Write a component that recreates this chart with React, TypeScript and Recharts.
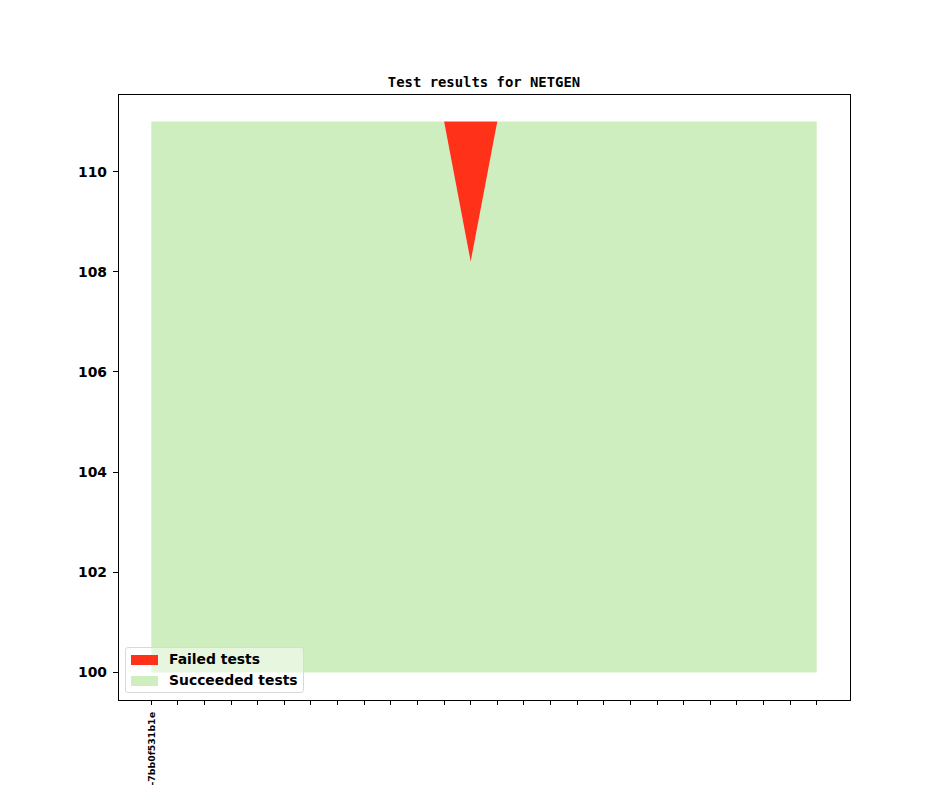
import React from "react";
import {
  ComposedChart,
  Area,
  XAxis,
  YAxis,
  Legend,
  ReferenceArea,
} from "recharts";

const commitLabels = [
  "-7bb0f531b1e", "", "", "", "", "", "", "", "", "", "", "", "",
  "", "", "", "", "", "", "", "", "", "", "", "", "",
];
const succeededTests = [
  111, 111, 111, 111, 111, 111, 111, 111, 111, 111, 111, 111, 108.2,
  111, 111, 111, 111, 111, 111, 111, 111, 111, 111, 111, 111, 111,
];
const failedTests = [
  0, 0, 0, 0, 0, 0, 0, 0, 0, 0, 0, 0, 2.8,
  0, 0, 0, 0, 0, 0, 0, 0, 0, 0, 0, 0, 0,
];
const yTicks = [100, 102, 104, 106, 108, 110];

const RED = "#ff3219";
const GREEN = "#cfeebf";

const data = commitLabels.map((label, i) => ({
  x: i,
  label,
  succ: succeededTests[i],
  failRange: [succeededTests[i], succeededTests[i] + failedTests[i]],
}));
const xTicks = data.map((d) => d.x);

const XTick = (props: any) => {
  const { x, y, payload } = props;
  const label = commitLabels[payload.value] || "";
  if (!label) return null;
  return (
    <text
      transform={`translate(${x},${y}) rotate(-90)`}
      textAnchor="end"
      dominantBaseline="central"
      fontFamily="DejaVu Sans"
      fontWeight="bold"
      fontSize={9.4}
      fill="#000"
    >
      {label}
    </text>
  );
};

const LegendBox = () => (
  <div
    style={{
      boxSizing: "border-box",
      border: "1px solid #d9d9d9",
      borderRadius: 3,
      background: "rgba(255,255,255,0.5)",
      padding: "1px 0 2px 5px",
      fontFamily: "DejaVu Sans",
      fontWeight: "bold",
      fontSize: 13.9,
      color: "#000",
      lineHeight: "21px",
      width: 179,
      height: 46,
      whiteSpace: "nowrap",
    }}
  >
    {[
      { name: "Failed tests", color: RED },
      { name: "Succeeded tests", color: GREEN },
    ].map((e) => (
      <div key={e.name} style={{ display: "flex", alignItems: "center", height: 21 }}>
        <span
          style={{
            display: "inline-block",
            width: 27,
            height: 10,
            background: e.color,
            marginRight: 11,
            flexShrink: 0,
          }}
        />
        <span>{e.name}</span>
      </div>
    ))}
  </div>
);

export default function App() {
  return (
    <div style={{ position: "absolute", left: 0, top: 0, width: 944, height: 787, background: "#fff", overflow: "hidden" }}>
      <div
        style={{
          position: "absolute",
          left: 118,
          width: 732,
          top: 74,
          textAlign: "center",
          fontFamily: "DejaVu Sans Mono",
          fontWeight: "bold",
          fontSize: 13.9,
          color: "#000",
        }}
      >
        Test results for NETGEN
      </div>
      <ComposedChart
        width={944}
        height={787}
        data={data}
        margin={{ top: 94, right: 94, left: 58, bottom: 47 }}
      >
        <XAxis
          dataKey="x"
          type="number"
          domain={[-1.25, 26.25]}
          ticks={xTicks}
          allowDataOverflow
          interval={0}
          height={40}
          tickSize={5}
          tickMargin={7}
          axisLine={{ stroke: "#000", shapeRendering: "crispEdges" }}
          tickLine={{ stroke: "#000", shapeRendering: "crispEdges" }}
          tick={<XTick />}
        />
        <YAxis
          type="number"
          domain={[99.45, 111.55]}
          ticks={yTicks}
          allowDataOverflow
          width={60}
          tickSize={5}
          tickMargin={6}
          axisLine={{ stroke: "#000", shapeRendering: "crispEdges" }}
          tickLine={{ stroke: "#000", shapeRendering: "crispEdges" }}
          tick={{ fill: "#000", fontFamily: "DejaVu Sans", fontWeight: "bold", fontSize: 13.9 }}
        />
        <Area
          dataKey="succ"
          baseValue={100}
          type="linear"
          fill={GREEN}
          fillOpacity={1}
          stroke="none"
          isAnimationActive={false}
          name="Succeeded tests"
        />
        <Area
          dataKey="failRange"
          type="linear"
          fill={RED}
          fillOpacity={1}
          stroke="none"
          isAnimationActive={false}
          name="Failed tests"
        />
        <ReferenceArea
          x1={-1.25}
          x2={26.25}
          y1={99.45}
          y2={111.55}
          fill="none"
          stroke="#000"
          strokeWidth={1}
          shapeRendering="crispEdges"
          ifOverflow="visible"
        />
        <Legend
          layout="vertical"
          verticalAlign="middle"
          align="center"
          content={<LegendBox />}
          wrapperStyle={{ position: "absolute", left: 125, top: 647, width: "auto" }}
        />
      </ComposedChart>
    </div>
  );
}
